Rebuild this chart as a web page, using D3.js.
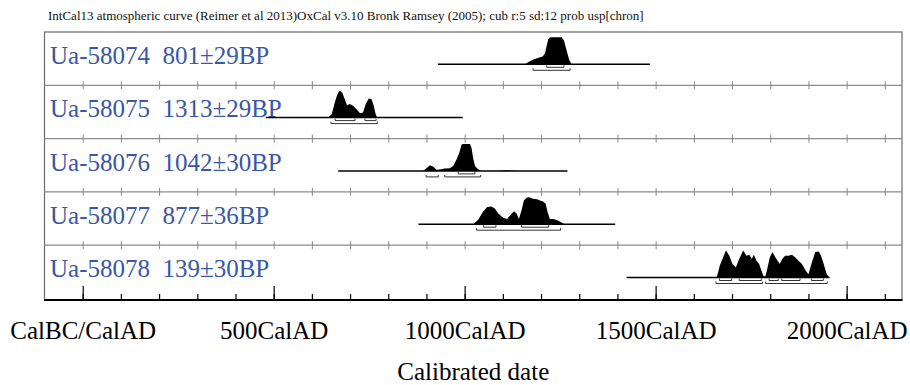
<!DOCTYPE html>
<html>
<head>
<meta charset="utf-8">
<script src="https://cdnjs.cloudflare.com/ajax/libs/d3/7.8.5/d3.min.js"></script>
<style>
  body { margin: 0; background: #fff; }
  svg { display: block; font-family: "Liberation Serif", "Times New Roman", serif; }
</style>
</head>
<body>
<script>

// sample names and radiocarbon ages, one per row
var sampleIds = ['Ua-58074', 'Ua-58075', 'Ua-58076', 'Ua-58077', 'Ua-58078'];
var bpDates = ['801±29BP', '1313±29BP', '1042±30BP', '877±36BP', '139±30BP'];

// extent of the thin line under each distribution (calendar years AD)
var lineExtents = [[930, 1485], [479, 995], [669, 1269], [879, 1394], [1424, 1955]];

// probability distributions, [year, relative probability]
var dist58074 = [[1158, 0], [1167, 0.085], [1180, 0.18], [1193, 0.24], [1204, 0.29], [1210, 0.39],
    [1215, 0.7], [1219, 0.94], [1225, 1], [1254, 1], [1260, 0.88], [1267, 0.51], [1274, 0.15], [1280, 0]];
var dist58075 = [[643, 0], [652, 0.125], [660, 0.56], [667, 0.875], [673, 1], [680, 0.91], [686, 0.69],
    [692, 0.46], [699, 0.5], [708, 0.44], [717, 0.31], [726, 0.16], [734, 0.19], [741, 0.5], [749, 0.71],
    [756, 0.69], [762, 0.44], [767, 0.125], [771, 0]];
var dist58076 = [[891, 0], [900, 0.1], [909, 0.21], [918, 0.15], [926, 0.04], [935, 0.05], [948, 0.085],
    [961, 0.1], [970, 0.18], [979, 0.43], [986, 0.67], [992, 0.98], [996, 1], [1014, 1], [1018, 0.85],
    [1022, 0.49], [1027, 0.18], [1035, 0.06], [1044, 0], [1092, 0.01], [1110, 0.02], [1145, 0]];
var dist58077 = [[1022, 0], [1035, 0.16], [1048, 0.46], [1059, 0.64], [1070, 0.66], [1079, 0.58],
    [1088, 0.4], [1101, 0.24], [1111, 0.19], [1120, 0.34], [1129, 0.48], [1136, 0.4], [1142, 0.19],
    [1149, 0.52], [1155, 0.88], [1162, 0.98], [1169, 1], [1179, 0.94], [1190, 0.92], [1197, 0.88],
    [1205, 0.84], [1212, 0.76], [1217, 0.46], [1223, 0.19], [1232, 0.19], [1241, 0.16], [1249, 0.1], [1262, 0]];
var dist58078 = [[1660, 0], [1668, 0.44], [1684, 1], [1693, 0.81], [1701, 0.5], [1710, 0.375], [1719, 0.69],
    [1729, 1], [1738, 0.81], [1745, 0.84], [1752, 0.69], [1757, 0.84], [1764, 0.625], [1771, 0.5],
    [1777, 0.25], [1782, 0.0625], [1787, 0.025], [1792, 0.31], [1799, 0.75], [1806, 0.94], [1815, 0.71],
    [1825, 0.5], [1832, 0.69], [1839, 0.81], [1848, 0.81], [1857, 0.84], [1865, 0.75], [1874, 0.625],
    [1883, 0.5], [1893, 0.25], [1900, 0.125], [1909, 0.56], [1918, 0.94], [1927, 0.96], [1933, 0.81],
    [1940, 0.5], [1948, 0.125], [1955, 0]];

// 68.2% and 95.4% ranges
var range68 = [[[1215, 1260]], [[661, 713], [739, 768]], [[983, 1027]],
    [[1049, 1082], [1149, 1220]], [[1667, 1699], [1719, 1777], [1797, 1821], [1830, 1878], [1908, 1939]]];
var range95 = [[[1179, 1276]], [[650, 771]], [[899, 931], [948, 1042]],
    [[1031, 1251]], [[1658, 1780], [1788, 1949]]];

var majorTicks = [0, 500, 1000, 1500, 2000];
var tickLabels = ['CalBC/CalAD', '500CalAD', '1000CalAD', '1500CalAD', '2000CalAD'];
var minorTicks = d3.range(0, 2101, 100);

var title = 'IntCal13 atmospheric curve (Reimer et al 2013)OxCal v3.10 Bronk Ramsey (2005); cub r:5 sd:12 prob usp[chron]';
var axisTitle = 'Calibrated date';

var dists = [dist58074, dist58075, dist58076, dist58077, dist58078];

var width = 910, height = 385;
var frame = { left: 44.5, right: 902, top: 32, bottom: 300 };

var svg = d3.select('body').append('svg')
    .attr('width', width)
    .attr('height', height);

// SCALES
var x = d3.scaleLinear()
    .domain([-100, 2145])
    .range([frame.left, frame.right]);

var rows = d3.scaleBand()
    .domain(sampleIds)
    .range([frame.top, frame.top + 53.3 * sampleIds.length]);

// peak height of each distribution
var y = d3.scaleLinear().domain([0, 1]).range([0, -27]);

svg.append('text')
    .attr('x', 48)
    .attr('y', 20)
    .attr('font-size', '13px')
    .attr('fill', '#111')
    .text(title);

// FRAME
svg.append('rect')
    .attr('x', frame.left)
    .attr('y', frame.top)
    .attr('width', frame.right - frame.left)
    .attr('height', frame.bottom - frame.top)
    .attr('fill', 'none')
    .attr('stroke', '#6a6a6a')
    .attr('stroke-width', 1.2);

// ROW SEPARATORS WITH TICKS
sampleIds.slice(1).forEach(function (id) {
    var sy = rows(id);
    svg.append('line')
        .attr('x1', frame.left).attr('x2', frame.right)
        .attr('y1', sy).attr('y2', sy)
        .attr('stroke', '#8a8a8a')
        .attr('stroke-width', 1.2);
    var g = svg.append('g')
        .attr('transform', translation(0, sy - 4))
        .call(d3.axisBottom(x).tickValues(minorTicks).tickSize(8).tickFormat(''));
    g.select('.domain').remove();
    g.selectAll('line').attr('stroke', '#8a8a8a').attr('stroke-width', 1);
});

// ROWS
sampleIds.forEach(function (id, i) {
    var top = rows(id);
    var base = top + 32.3;

    svg.append('text')
        .attr('x', 50)
        .attr('y', top + 32)
        .attr('font-size', '25px')
        .attr('fill', '#3a56a6')
        .style('white-space', 'pre')
        .text(id + '  ' + bpDates[i]);

    svg.append('line')
        .attr('x1', x(lineExtents[i][0])).attr('x2', x(lineExtents[i][1]))
        .attr('y1', base).attr('y2', base)
        .attr('stroke', '#000')
        .attr('stroke-width', 1.5);

    var area = d3.area()
        .x(function (d) { return x(d[0]); })
        .y0(base)
        .y1(function (d) { return base + y(d[1]); });

    svg.append('path')
        .datum(dists[i])
        .attr('d', area)
        .attr('fill', '#000');

    drawBrackets(range68[i], base + 3);
    drawBrackets(range95[i], base + 6);
});

function drawBrackets(ranges, by) {
    svg.append('g').selectAll('path')
        .data(ranges)
        .enter().append('path')
        .attr('d', function (d) {
            return 'M' + x(d[0]) + ',' + (by - 2) + 'V' + by + 'H' + x(d[1]) + 'V' + (by - 2);
        })
        .attr('fill', 'none')
        .attr('stroke', '#333')
        .attr('stroke-width', 1);
}

// BOTTOM AXIS
var minorAxis = svg.append('g')
    .attr('transform', translation(0, frame.bottom))
    .call(d3.axisBottom(x).tickValues(minorTicks).tickSize(-6).tickFormat(''));
minorAxis.select('.domain').remove();
minorAxis.selectAll('line').attr('stroke', '#000').attr('stroke-width', 1.2);

var majorAxis = svg.append('g')
    .attr('transform', translation(0, frame.bottom))
    .call(d3.axisBottom(x).tickValues(majorTicks).tickSizeInner(-14).tickSizeOuter(0)
        .tickPadding(21)
        .tickFormat(function (d, i) { return tickLabels[i]; }));
majorAxis.select('.domain').remove();
majorAxis.selectAll('line').attr('stroke', '#000').attr('stroke-width', 1.2);
majorAxis.selectAll('text')
    .attr('font-family', '"Liberation Serif", serif')
    .attr('font-size', '25px')
    .attr('fill', '#000');

svg.append('line')
    .attr('x1', frame.left - 0.5).attr('x2', frame.right + 0.5)
    .attr('y1', frame.bottom).attr('y2', frame.bottom)
    .attr('stroke', '#000')
    .attr('stroke-width', 2);

svg.append('text')
    .attr('x', (frame.left + frame.right) / 2)
    .attr('y', 380)
    .attr('text-anchor', 'middle')
    .attr('font-size', '25px')
    .attr('fill', '#000')
    .text(axisTitle);

function translation(x, y) {
    return 'translate(' + x + ',' + y + ')';
}
</script>
</body>
</html>
